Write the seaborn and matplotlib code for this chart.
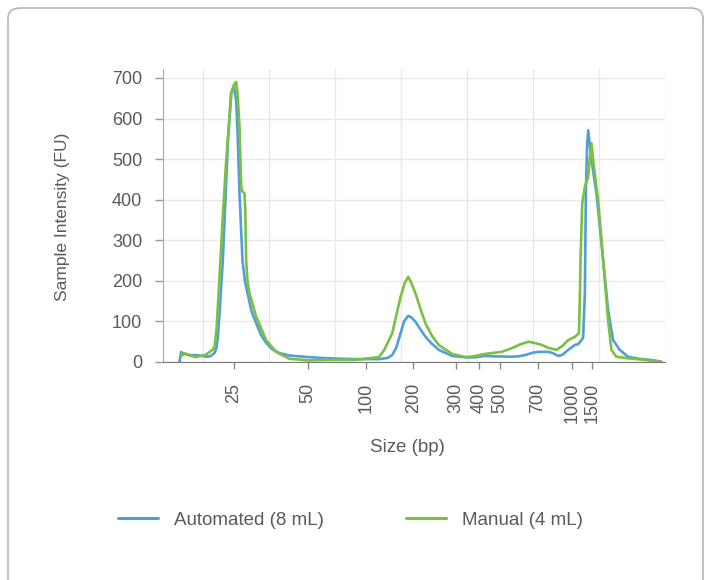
import pandas as pd
import matplotlib
matplotlib.use("Agg")
import matplotlib.pyplot as plt
import seaborn as sns
from matplotlib.patches import FancyBboxPatch

# Migration position (arbitrary run units) and intensity
auto_x = [16.5, 16.75, 17.0, 17.3, 18.0, 18.8, 19.5, 20.2, 20.6, 21.1, 21.8, 22.1, 22.3, 22.6,
          23.06, 23.4, 23.82, 24.33, 24.72, 25.08, 25.3, 25.58, 26.03, 26.4, 26.79, 27.4, 28.1,
          28.8, 29.61, 30.5, 31.61, 33.12, 36.0, 39.16, 43.0, 46.7, 48.0, 48.7, 49.3, 49.97,
          50.5, 51.12, 51.6, 52.23, 53.0, 53.74, 54.7, 55.75, 57.75, 60.27, 61.5, 62.79, 64.0,
          66.8, 67.8, 68.82, 70.0, 70.83, 72.34, 73.0, 73.85, 74.5, 75.35, 76.36, 76.86, 77.36,
          77.6, 77.87, 78.02, 78.2, 78.37, 78.87, 79.62, 80.38, 81.39, 82.14, 83.15, 84.4, 86.0,
          87.92, 89.43]
auto_y = [0, 25, 18, 20, 17, 17, 16, 14, 13, 14, 22, 35, 60, 130,
          251, 380, 540, 663, 680, 645, 560, 416, 251, 200, 170, 125, 96,
          68, 47, 32, 22, 16, 12, 9, 7, 7, 10, 17, 35, 71,
          100, 114, 110, 99, 80, 62, 45, 30, 15, 11, 12, 15, 14,
          13, 14, 17, 23, 25, 25, 22, 15, 18, 30, 42, 44, 54,
          60, 169, 416, 530, 571, 497, 416, 293, 128, 54, 30, 13, 8,
          5, 1]

manual_x = [16.8, 17.0, 17.5, 18.3, 19.0, 19.6, 20.5, 21.06, 21.5, 21.81, 22.1, 22.56, 23.06,
            23.57, 24.33, 24.8, 25.08, 25.3, 25.58, 25.84, 26.0, 26.33, 26.45, 26.59, 26.79,
            27.09, 28.1, 29.61, 31.12, 33.12, 36.0, 39.16, 43.0, 46.7, 47.5, 48.7, 49.97, 50.6,
            51.12, 51.6, 52.23, 53.0, 53.74, 54.7, 55.75, 57.75, 59.77, 61.0, 62.79, 65.29,
            66.8, 68.0, 69.32, 70.5, 71.33, 72.5, 73.59, 74.5, 75.35, 76.36, 76.97, 77.1, 77.21,
            77.47, 77.87, 78.37, 78.6, 78.87, 79.12, 79.88, 80.63, 81.39, 81.88, 82.64, 84.4,
            87.0, 88.43, 89.5]
manual_y = [15, 22, 20, 15, 12, 15, 18, 25, 30, 38, 80, 210, 360,
            497, 662, 685, 690, 660, 580, 432, 420, 416, 380, 251, 200,
            170, 112, 54, 25, 8, 4, 5, 5, 12, 30, 71, 161, 195,
            210, 195, 169, 130, 95, 65, 42, 20, 12, 14, 20, 25,
            34, 43, 50, 46, 42, 34, 30, 40, 54, 62, 71, 150, 251,
            391, 432, 456, 500, 539, 497, 399, 251, 103, 30, 13, 9,
            5, 2, 0]

# Size ladder positions and labels
size_pos = [24.7, 35.9, 44.8, 51.9, 58.4, 61.8, 65.0, 70.7, 75.9, 78.9]
size_labels = ["25", "50", "100", "200", "300", "400", "500", "700", "1000", "1500"]

series_names = ["Automated (8 mL)", "Manual (4 mL)"]
colors = ["#529fd7", "#79c043"]

df = pd.concat([
    pd.DataFrame({"pos": auto_x, "fu": auto_y, "sample": series_names[0]}),
    pd.DataFrame({"pos": manual_x, "fu": manual_y, "sample": series_names[1]}),
])

sns.set_style("white")
plt.rcParams["font.family"] = ["Liberation Sans", "DejaVu Sans"]
text_color = "#5a5a5a"

fig = plt.figure(figsize=(7.09, 5.8), dpi=100)
ax = fig.add_axes([163 / 709, 1 - 362 / 580, (665 - 163) / 709, (362 - 69) / 580])

sns.lineplot(data=df, x="pos", y="fu", hue="sample", palette=colors, estimator=None,
             sort=False, linewidth=1.9, ax=ax, legend=False)

ax.set_xlim(14, 90)
ax.set_ylim(0, 722)
ax.set_yticks(range(0, 701, 100))
ax.set_xticks(size_pos)
ax.set_xticklabels(size_labels, rotation=90)
ax.set_xticks(range(20, 91, 10), minor=True)
ax.grid(False)
ax.grid(True, axis="y", which="major", color="#e8e8e8", linewidth=1)
ax.grid(True, axis="x", which="minor", color="#e8e8e8", linewidth=1)
ax.set_axisbelow(True)
ax.tick_params(axis="x", which="major", length=5, width=1, color="#888888", pad=10,
               labelsize=13, labelcolor=text_color, direction="out", bottom=True)
ax.tick_params(axis="x", which="minor", length=0)
ax.tick_params(axis="y", length=6, width=1, color="#999999", pad=9,
               labelsize=13, labelcolor=text_color, left=True)
ax.set_xlabel("")
ax.set_ylabel("")
for side in ["top", "right"]:
    ax.spines[side].set_visible(False)
ax.spines["left"].set_color("#aaaaaa")
ax.spines["bottom"].set_color("#777777")

fig.text(62 / 709, 1 - 217 / 580, "Sample Intensity (FU)", rotation=90, ha="center",
         va="center", fontsize=12.5, color=text_color)
fig.text(407 / 709, 1 - 447 / 580, "Size (bp)", ha="center", va="center",
         fontsize=13.5, color=text_color)

handles = [plt.Line2D([], [], color=c, linewidth=2.2) for c in colors]
fig.legend(handles, series_names, loc="center left", bbox_to_anchor=(118 / 709, 1 - 520 / 580),
           ncol=2, frameon=False, fontsize=13.5, handlelength=2.13, handletextpad=0.85,
           columnspacing=4.4, borderpad=0, borderaxespad=0, labelcolor=text_color)

border = FancyBboxPatch((8 / 709, -0.05), 695 / 709, 1.05 - 8 / 580,
                        boxstyle="round,pad=0,rounding_size=0.018", transform=fig.transFigure,
                        facecolor="none", edgecolor="#b5b5b5", linewidth=1.2)
fig.patches.append(border)

fig.savefig("out.png", dpi=100)
